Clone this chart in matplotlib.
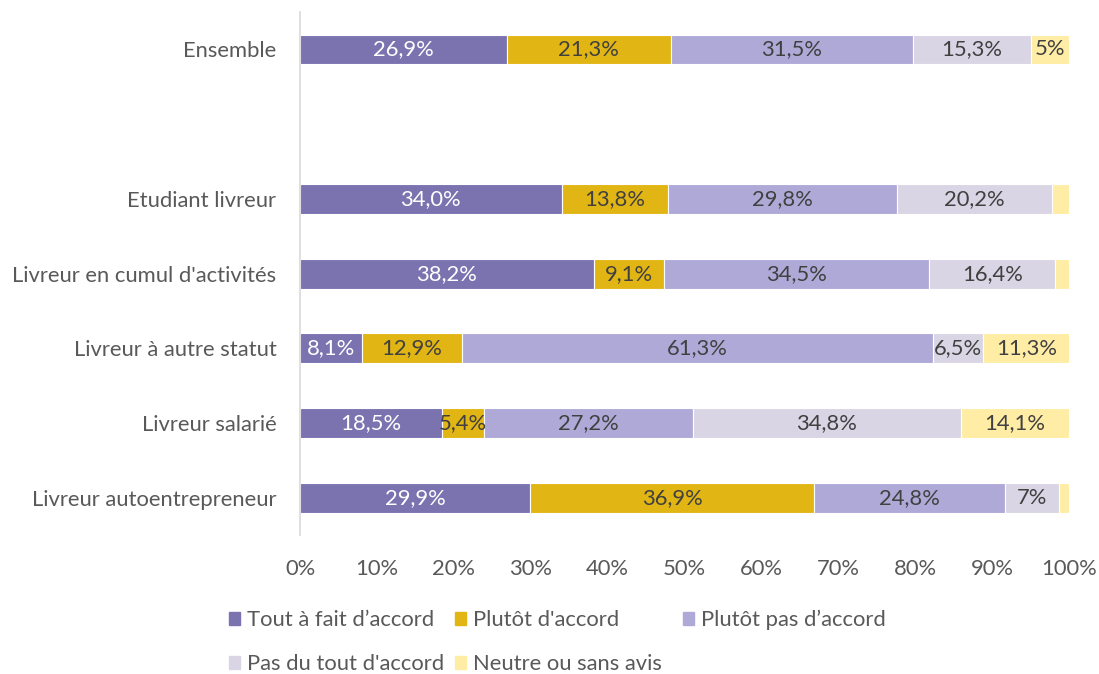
import matplotlib.pyplot as plt
import numpy as np

plt.rcParams["font.family"] = ["Lato", "DejaVu Sans"]

# Groups from bottom to top; the empty slot separates "Ensemble"
groups = [
    "Livreur autoentrepreneur",
    "Livreur salarié",
    "Livreur à autre statut",
    "Livreur en cumul d'activités",
    "Etudiant livreur",
    "",
    "Ensemble",
]
series = [
    "Tout à fait d’accord",
    "Plutôt d'accord",
    "Plutôt pas d’accord",
    "Pas du tout d'accord",
    "Neutre ou sans avis",
]
tout_a_fait = [29.9, 18.5, 8.1, 38.2, 34.0, None, 26.9]
plutot = [36.9, 5.4, 12.9, 9.1, 13.8, None, 21.3]
plutot_pas = [24.8, 27.2, 61.3, 34.5, 29.8, None, 31.5]
pas_du_tout = [7.0, 34.8, 6.5, 16.4, 20.2, None, 15.3]
neutre = [1.4, 14.1, 11.3, 1.8, 2.2, None, 5.0]
# Small segments carry no label
neutre_labelled = [False, True, True, False, False, None, True]

colors = ["#7B73B0", "#E1B514", "#AFA9D8", "#D9D5E4", "#FFEDA6"]
label_colors = ["white", "#404040", "#404040", "#404040", "#404040"]
values = [tout_a_fait, plutot, plutot_pas, pas_du_tout, neutre]


def fmt(v):
    if abs(v - round(v)) < 1e-9 and v < 10:
        return f"{v:.0f}%"
    return f"{v:.1f}%".replace(".", ",")


fig = plt.figure(figsize=(10.99, 6.74), dpi=100)
ax = fig.add_axes([0.273, 0.206, 0.7, 0.776])

fs = 15.8
y = np.arange(len(groups))
left = np.zeros(len(groups))
for k, (vals, col) in enumerate(zip(values, colors)):
    for i, v in enumerate(vals):
        if v is None:
            continue
        ax.barh(y[i], v, left=left[i], height=0.4, color=col,
                edgecolor="white", linewidth=0.8)
        show = True
        if k == 4:
            show = neutre_labelled[i]
        if show:
            ax.text(left[i] + v / 2, y[i], fmt(v), ha="center", va="center",
                    fontsize=fs, color=label_colors[k])
        left[i] += v

ax.set_xlim(0, 100)
ax.set_ylim(-0.5, 6.5)
ax.set_xticks(np.arange(0, 101, 10))
ax.set_xticklabels([f"{t}%" for t in range(0, 101, 10)])
ax.set_yticks(y)
ax.set_yticklabels(groups)
ax.tick_params(axis="x", length=0, pad=17, labelsize=fs, labelcolor="#595959")
ax.tick_params(axis="y", length=0, pad=17, labelsize=fs, labelcolor="#595959")
for s in ["top", "right", "bottom"]:
    ax.spines[s].set_visible(False)
ax.spines["left"].set_color("#D9D9D9")
ax.spines["left"].set_linewidth(1.2)

# Legend entries laid out in two rows
legend_pos = [(229, 620), (455, 620), (683, 620), (229, 664), (455, 664)]
W, H = 1099, 674
for name, col, (px, py) in zip(series, colors, legend_pos):
    h = plt.Rectangle((0, 0), 1, 1, color=col)
    fig.legend(handles=[h], labels=[name], loc="center left",
               bbox_to_anchor=(px / W, 1 - py / H), frameon=False,
               fontsize=fs, labelcolor="#595959", handlelength=0.52,
               handleheight=0.52, handletextpad=0.3, borderpad=0,
               borderaxespad=0)

fig.savefig("out.png", dpi=100)
